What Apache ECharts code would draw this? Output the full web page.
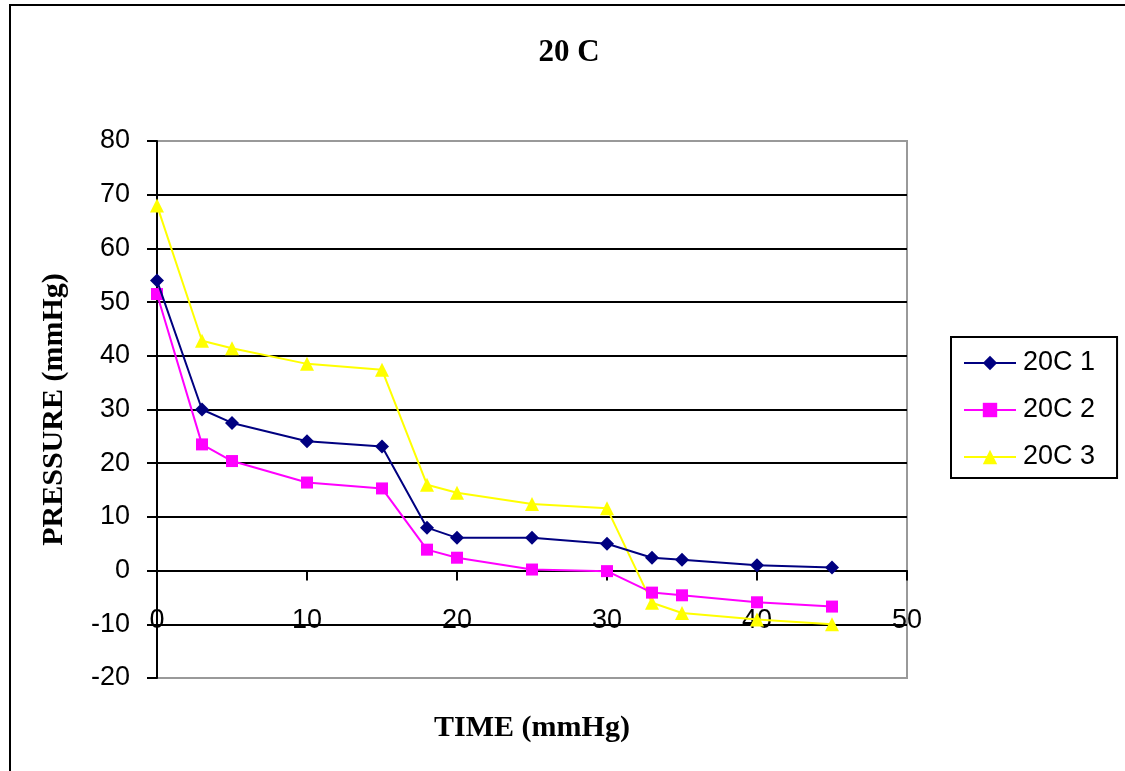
<!DOCTYPE html>
<html>
<head>
<meta charset="utf-8">
<script src="https://cdn.jsdelivr.net/npm/echarts@6/dist/echarts.min.js"></script>
<style>
  html, body { margin: 0; padding: 0; background: #ffffff; }
  #chart { width: 1125px; height: 771px; }
</style>
</head>
<body>
<div id="chart"></div>
<script>
// Pressure readings over time at 20 C, three runs
const timeValues = [0, 3, 5, 10, 15, 18, 20, 25, 30, 33, 35, 40, 45];
const run1 = [54.0, 30.0, 27.5, 24.1, 23.1, 8.0, 6.1, 6.1, 5.0, 2.4, 2.0, 1.0, 0.6];
const run2 = [51.5, 23.5, 20.4, 16.4, 15.3, 3.9, 2.4, 0.2, -0.1, -4.1, -4.6, -5.9, -6.7];
const run3 = [68.0, 42.8, 41.4, 38.5, 37.4, 16.0, 14.5, 12.4, 11.6, -6.0, -7.9, -9.1, -10.0];
const seriesNames = ['20C 1', '20C 2', '20C 3'];
const chartTitle = '20 C';
const xTitle = 'TIME (mmHg)';
const yTitle = 'PRESSURE (mmHg)';

const pairs = vals => timeValues.map((t, i) => [t, vals[i]]);

const sans = 'Liberation Sans, Arial, sans-serif';
const serif = 'Liberation Serif, Times New Roman, serif';

const chart = echarts.init(document.getElementById('chart'), null, { renderer: 'canvas' });

chart.setOption({
  animation: false,
  backgroundColor: '#ffffff',
  graphic: [{
    type: 'rect',
    shape: { x: 10, y: 5, width: 1140, height: 800 },
    style: { fill: 'none', stroke: '#000000', lineWidth: 2 },
    z: 100
  }],
  title: {
    text: chartTitle,
    left: 564,
    top: 32,
    textAlign: 'center',
    textStyle: { fontFamily: serif, fontWeight: 'bold', fontSize: 31, color: '#000' }
  },
  legend: {
    orient: 'vertical',
    left: 951,
    top: 337,
    padding: [12, 22, 7, 12],
    borderColor: '#000000',
    borderWidth: 2,
    itemWidth: 52,
    itemHeight: 18,
    itemGap: 19,
    textStyle: { fontFamily: sans, fontSize: 27, color: '#000', lineHeight: 28, padding: [0, 0, 0, 2] },
    data: seriesNames
  },
  grid: {
    left: 157,
    top: 141,
    width: 750,
    height: 537,
    show: true,
    borderColor: '#999999',
    borderWidth: 2,
    backgroundColor: '#ffffff',
    containLabel: false,
    outerBoundsMode: 'none'
  },
  xAxis: {
    type: 'value',
    min: 0,
    max: 50,
    interval: 10,
    name: xTitle,
    nameLocation: 'middle',
    nameGap: 35,
    nameMoveOverlap: false,
    nameTextStyle: { fontFamily: serif, fontWeight: 'bold', fontSize: 30, color: '#000' },
    axisLine: { onZero: true, lineStyle: { color: '#000', width: 2 } },
    axisTick: { show: true, inside: false, length: 10, lineStyle: { color: '#000', width: 2 } },
    axisLabel: { margin: -71, fontFamily: sans, fontSize: 27, color: '#000' },
    splitLine: { show: false }
  },
  yAxis: {
    type: 'value',
    min: -20,
    max: 80,
    interval: 10,
    name: yTitle,
    nameLocation: 'middle',
    nameGap: 88,
    nameTextStyle: { fontFamily: serif, fontWeight: 'bold', fontSize: 30, color: '#000' },
    axisLine: { show: true, onZero: false, lineStyle: { color: '#000', width: 2 } },
    axisTick: { show: true, inside: false, length: 10, lineStyle: { color: '#000', width: 2 } },
    axisLabel: { margin: 27, fontFamily: sans, fontSize: 27, color: '#000' },
    splitLine: {
      show: true,
      lineStyle: {
        color: ['#999999', '#000', '#000', '#000', '#000', '#000', '#000', '#000', '#000', '#000', '#999999'],
        width: 2
      }
    }
  },
  series: [
    {
      name: seriesNames[0],
      type: 'line',
      data: pairs(run1),
      symbol: 'diamond',
      symbolSize: 14,
      lineStyle: { color: '#000080', width: 2 },
      itemStyle: { color: '#000080' },
      z: 5
    },
    {
      name: seriesNames[1],
      type: 'line',
      data: pairs(run2),
      symbol: 'rect',
      symbolSize: 12,
      lineStyle: { color: '#FF00FF', width: 2 },
      itemStyle: { color: '#FF00FF' },
      z: 4
    },
    {
      name: seriesNames[2],
      type: 'line',
      data: pairs(run3),
      symbol: 'triangle',
      symbolSize: 14,
      lineStyle: { color: '#FFFF00', width: 2 },
      itemStyle: { color: '#FFFF00' },
      z: 3
    }
  ]
});
</script>
</body>
</html>
